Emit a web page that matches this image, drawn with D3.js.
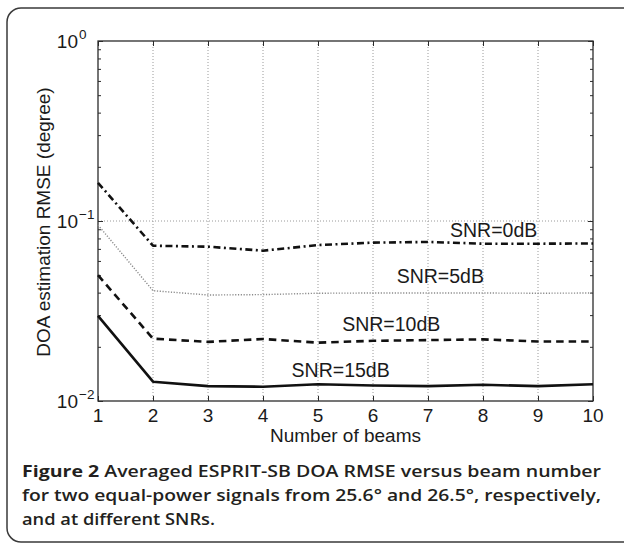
<!DOCTYPE html>
<html>
<head>
<meta charset="utf-8">
<script src="https://cdn.jsdelivr.net/npm/d3@7"></script>
<style>
  html, body { margin: 0; padding: 0; background: #fff; }
  svg { display: block; }
</style>
</head>
<body>
<svg id="chart" width="624" height="544"></svg>
<script>
// ---- data ----
const beams = [1, 2, 3, 4, 5, 6, 7, 8, 9, 10];
const snr0dB  = [0.163, 0.0729, 0.0720, 0.0684, 0.0735, 0.0758, 0.0765, 0.0748, 0.0748, 0.0750];
const snr5dB  = [0.095, 0.0410, 0.0388, 0.0390, 0.0397, 0.0398, 0.0398, 0.0398, 0.0397, 0.0398];
const snr10dB = [0.050, 0.0222, 0.0213, 0.0221, 0.0211, 0.0216, 0.0218, 0.0220, 0.0214, 0.0214];
const snr15dB = [0.0297, 0.0128, 0.0121, 0.0120, 0.0124, 0.0122, 0.0121, 0.0123, 0.0121, 0.0124];
const seriesNames = ["SNR=0dB", "SNR=5dB", "SNR=10dB", "SNR=15dB"];
const labelBeam = [7.40, 6.43, 5.44, 4.52];
const labelValue = [0.0815, 0.0451, 0.0245, 0.01365];
const xTicks = [1, 2, 3, 4, 5, 6, 7, 8, 9, 10];
const yDecades = [1, 0.1, 0.01];
const yDecadeExp = ["0", "\u22121", "\u22122"];
const xLabel = "Number of beams";
const yLabel = "DOA estimation RMSE (degree)";
const captionBold = "Figure 2";
const captionLines = [
  " Averaged ESPRIT-SB DOA RMSE versus beam number",
  "for two equal-power signals from 25.6° and 26.5°, respectively,",
  "and at different SNRs."
];

// ---- layout ----
const svg = d3.select("#chart");
const L = 98, R = 593, T = 41, B = 401;
const x = d3.scaleLinear().domain([1, 10]).range([L, R]);
const y = d3.scaleLog().domain([0.01, 1]).range([B, T]);
const font = "'Liberation Sans', Arial, Helvetica, sans-serif";
const axisColor = "#2b2b2b";

// outer rounded box
svg.append("rect")
  .attr("x", 7).attr("y", 8).attr("width", 640).attr("height", 534)
  .attr("rx", 14).attr("ry", 14)
  .attr("fill", "none").attr("stroke", "#3a3a3a").attr("stroke-width", 1.5);

// grid
const grid = svg.append("g").attr("stroke", "#9a9a9a").attr("stroke-width", 1)
  .attr("stroke-dasharray", "1,2").attr("fill", "none");
xTicks.slice(1, -1).forEach(v => {
  grid.append("line").attr("x1", x(v)).attr("x2", x(v)).attr("y1", T).attr("y2", B);
});
grid.append("line").attr("x1", L).attr("x2", R).attr("y1", y(0.1)).attr("y2", y(0.1));

// minor log ticks
const minor = [];
[0.01, 0.1].forEach(d => { for (let k = 2; k <= 9; k++) minor.push(d * k); });

// axes with d3
const axG = svg.append("g").attr("class", "axes");
function styleAxis(g) {
  g.select(".domain").remove();
  g.selectAll("line").attr("stroke", axisColor).attr("stroke-width", 1);
  g.selectAll("text").remove();
}
axG.append("g").attr("transform", `translate(0,${B})`)
  .call(d3.axisBottom(x).tickValues(xTicks).tickSize(-5)).call(styleAxis);
axG.append("g").attr("transform", `translate(0,${T})`)
  .call(d3.axisTop(x).tickValues(xTicks).tickSize(-5)).call(styleAxis);
axG.append("g").attr("transform", `translate(${L},0)`)
  .call(d3.axisLeft(y).tickValues(yDecades).tickSize(-5)).call(styleAxis);
axG.append("g").attr("transform", `translate(${R},0)`)
  .call(d3.axisRight(y).tickValues(yDecades).tickSize(-5)).call(styleAxis);
axG.append("g").attr("transform", `translate(${L},0)`)
  .call(d3.axisLeft(y).tickValues(minor).tickSize(-3)).call(styleAxis);
axG.append("g").attr("transform", `translate(${R},0)`)
  .call(d3.axisRight(y).tickValues(minor).tickSize(-3)).call(styleAxis);

// frame
svg.append("rect").attr("x", L).attr("y", T).attr("width", R - L).attr("height", B - T)
  .attr("fill", "none").attr("stroke", axisColor).attr("stroke-width", 1.3);

// series
const line = d3.line().x((d, i) => x(beams[i])).y(d => y(d));
const styles = [
  { data: snr0dB,  color: "#111", width: 2.6, dash: "7,3.5,2,3.5" },
  { data: snr5dB,  color: "#8a8a8a", width: 1.4, dash: "1.2,1.6" },
  { data: snr10dB, color: "#111", width: 2.6, dash: "7.5,5" },
  { data: snr15dB, color: "#111", width: 2.6, dash: null }
];
styles.forEach(s => {
  svg.append("path").datum(s.data)
    .attr("d", line)
    .attr("fill", "none")
    .attr("stroke", s.color)
    .attr("stroke-width", s.width)
    .attr("stroke-dasharray", s.dash)
    .attr("stroke-linejoin", "round");
});

// series labels
seriesNames.forEach((name, i) => {
  svg.append("text")
    .attr("x", x(labelBeam[i])).attr("y", y(labelValue[i]))
    .attr("font-family", font).attr("font-size", 19.5).attr("fill", "#1a1a1a")
    .text(name);
});

// x tick labels
xTicks.forEach(v => {
  svg.append("text").attr("x", x(v)).attr("y", B + 21)
    .attr("text-anchor", "middle")
    .attr("font-family", font).attr("font-size", 19).attr("fill", "#1a1a1a")
    .text(v);
});

// y tick labels (10^k)
yDecades.forEach((v, i) => {
  const t = svg.append("g");
  t.append("text").attr("x", 78).attr("y", y(v) + 7)
    .attr("text-anchor", "end")
    .attr("font-family", font).attr("font-size", 19).attr("fill", "#1a1a1a")
    .text("10");
  t.append("text").attr("x", 79).attr("y", y(v) - 2.5)
    .attr("font-family", font).attr("font-size", 13.5).attr("fill", "#1a1a1a")
    .text(yDecadeExp[i]);
});

// axis labels
svg.append("text").attr("x", (L + R) / 2).attr("y", 442)
  .attr("text-anchor", "middle")
  .attr("font-family", font).attr("font-size", 19).attr("fill", "#1a1a1a")
  .text(xLabel);
svg.append("text")
  .attr("transform", `translate(50,${(T + B) / 2 + 1}) rotate(-90)`)
  .attr("text-anchor", "middle")
  .attr("font-family", font).attr("font-size", 19).attr("fill", "#1a1a1a")
  .text(yLabel);

// caption
const capFont = "'Open Sans', 'Noto Sans', sans-serif";
const capSize = 16;
const capY = [477, 501, 525];
const c1 = svg.append("text").attr("x", 22).attr("y", capY[0])
  .attr("font-family", capFont).attr("font-size", capSize).attr("fill", "#231f20")
  .attr("font-weight", 600).attr("textLength", 579).attr("lengthAdjust", "spacingAndGlyphs");
c1.append("tspan").attr("font-weight", 700).text(captionBold);
c1.append("tspan").text(captionLines[0]);
svg.append("text").attr("x", 22).attr("y", capY[1])
  .attr("font-family", capFont).attr("font-size", capSize).attr("fill", "#231f20")
  .attr("font-weight", 600).attr("textLength", 579).attr("lengthAdjust", "spacingAndGlyphs")
  .text(captionLines[1]);
const c3 = svg.append("text").attr("x", 22).attr("y", capY[2])
  .attr("font-family", capFont).attr("font-size", capSize).attr("fill", "#231f20")
  .attr("font-weight", 600)
  .text(captionLines[2]);
// scale the last line like the justified lines (reference: ends near x=215)
c3.attr("textLength", 193).attr("lengthAdjust", "spacingAndGlyphs");
</script>
</body>
</html>
